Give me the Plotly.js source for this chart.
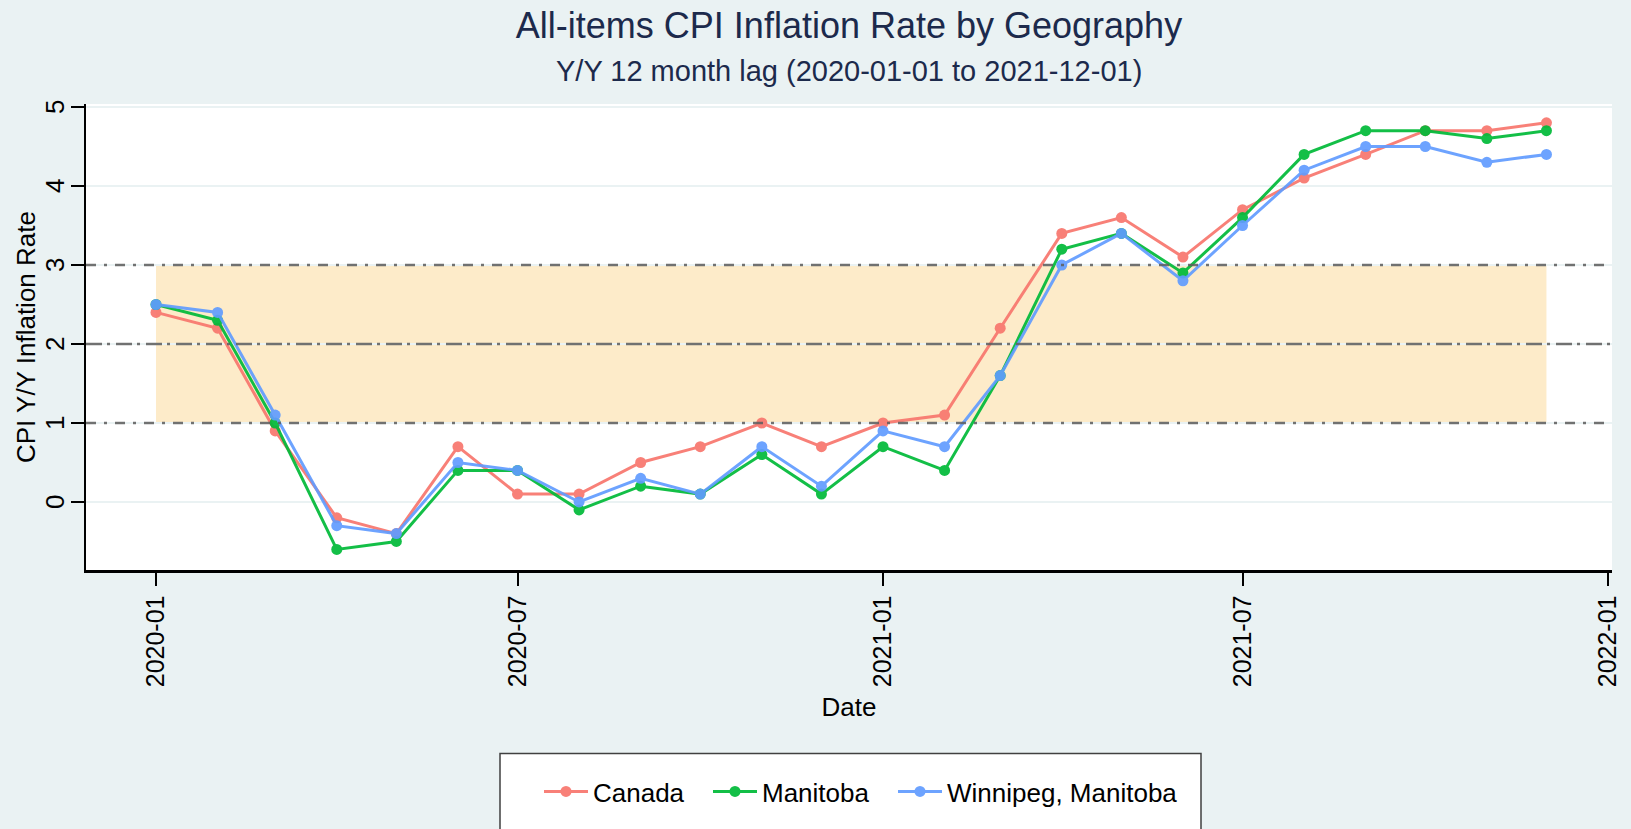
<!DOCTYPE html>
<html>
<head>
<meta charset="utf-8">
<script src="https://cdn.plot.ly/plotly-3.0.1.min.js"></script>
<style>
html,body{margin:0;padding:0;background:#eaf2f3;}
#chart{width:1631px;height:829px;}
</style>
</head>
<body>
<div id="chart"></div>
<script>
// ---- data ----
const dates = ['2020-01-01','2020-02-01','2020-03-01','2020-04-01','2020-05-01','2020-06-01',
               '2020-07-01','2020-08-01','2020-09-01','2020-10-01','2020-11-01','2020-12-01',
               '2021-01-01','2021-02-01','2021-03-01','2021-04-01','2021-05-01','2021-06-01',
               '2021-07-01','2021-08-01','2021-09-01','2021-10-01','2021-11-01','2021-12-01'];
const canada   = [2.4, 2.2, 0.9, -0.2, -0.4, 0.7, 0.1, 0.1, 0.5, 0.7, 1.0, 0.7,
                  1.0, 1.1, 2.2, 3.4, 3.6, 3.1, 3.7, 4.1, 4.4, 4.7, 4.7, 4.8];
const manitoba = [2.5, 2.3, 1.0, -0.6, -0.5, 0.4, 0.4, -0.1, 0.2, 0.1, 0.6, 0.1,
                  0.7, 0.4, 1.6, 3.2, 3.4, 2.9, 3.6, 4.4, 4.7, 4.7, 4.6, 4.7];
const winnipeg = [2.5, 2.4, 1.1, -0.3, -0.4, 0.5, 0.4, 0.0, 0.3, 0.1, 0.7, 0.2,
                  0.9, 0.7, 1.6, 3.0, 3.4, 2.8, 3.5, 4.2, 4.5, 4.5, 4.3, 4.4];
const seriesNames = ['Canada', 'Manitoba', 'Winnipeg, Manitoba'];
const xTickVals = ['2020-01-01','2020-07-01','2021-01-01','2021-07-01','2022-01-01'];
const xTickText = ['2020-01','2020-07','2021-01','2021-07','2022-01'];
const yTickVals = [0, 1, 2, 3, 4, 5];
const yTickText = ['0', '1', '2', '3', '4', '5'];
const targetBand = [1, 3];
const referenceLines = [1, 2, 3];
const bandStart = '2020-01-01';
const bandEnd = '2021-12-01';

// ---- styles ----
const FONT = 'Liberation Sans, Arial, sans-serif';
const colors = ['#F8766D', '#00BA38', '#619CFF'];
const seriesData = [canada, manitoba, winnipeg];
const legendIds = ['legend', 'legend2', 'legend3'];
const legendLeftPx = [539, 708, 893];

const traces = seriesData.map((vals, i) => ({
  type: 'scatter',
  mode: 'lines+markers',
  x: dates,
  y: vals,
  name: seriesNames[i],
  legend: legendIds[i],
  line: {color: colors[i], width: 3},
  marker: {color: colors[i], size: 11},
  opacity: 0.92
}));

const shapes = [
  {type: 'rect', xref: 'x', yref: 'y', x0: bandStart, x1: bandEnd,
   y0: targetBand[0], y1: targetBand[1], fillcolor: '#fdebc9', line: {width: 0}, layer: 'below'}
];
referenceLines.forEach(v => {
  shapes.push({type: 'line', xref: 'paper', yref: 'y', x0: 0, x1: 1, y0: v, y1: v,
    line: {color: 'rgba(95,95,95,0.88)', width: 2.5,
           dash: v === 2 ? '16px,5px,3px,6px' : '10px,8px,3px,8px'},
    layer: 'above'});
});
// legend frame
shapes.push({type: 'rect', xref: 'paper', yref: 'paper',
  x0: (500 - 86) / 1526, x1: (1201 - 86) / 1526, y0: (570 - 753.5) / 466, y1: (570 - 860) / 466,
  fillcolor: '#ffffff', line: {color: '#404040', width: 1.5}, layer: 'below'});

const annotations = [{
  text: 'Y/Y 12 month lag (2020-01-01 to 2021-12-01)',
  xref: 'paper', x: 0.5, xanchor: 'center',
  yref: 'paper', y: (570 - 71) / 466, yanchor: 'middle',
  showarrow: false, font: {family: FONT, size: 29, color: '#1c2a4c'}
}, {
  text: 'CPI Y/Y Inflation Rate',
  xref: 'paper', x: (26 - 86) / 1526, xanchor: 'center',
  yref: 'paper', y: 0.5, yanchor: 'middle', textangle: -90,
  showarrow: false, font: {family: FONT, size: 26, color: '#000000'}
}];
// rotated y tick labels
yTickVals.forEach((v, i) => {
  annotations.push({
    text: yTickText[i],
    xref: 'paper', x: (55 - 86) / 1526, xanchor: 'center',
    yref: 'y', y: v, yanchor: 'middle', textangle: -90,
    showarrow: false, font: {family: FONT, size: 26, color: '#000000'}
  });
});

const layout = {
  width: 1631, height: 829,
  paper_bgcolor: '#eaf2f3',
  plot_bgcolor: '#ffffff',
  margin: {l: 86, r: 19, t: 104, b: 259, pad: 0},
  font: {family: FONT, color: '#000000', size: 26},
  title: {
    text: 'All-items CPI Inflation Rate by Geography',
    font: {family: FONT, size: 36, color: '#1c2a4c'},
    x: 0.5, xref: 'paper', xanchor: 'center',
    y: 1 - 25 / 829, yref: 'container', yanchor: 'middle'
  },
  annotations: annotations,
  showlegend: true,
  xaxis: {
    type: 'date',
    range: ['2019-11-26 18:14', '2022-01-03 00:00'],
    tickvals: xTickVals, ticktext: xTickText,
    tickangle: -90,
    ticks: 'outside', ticklen: 13, tickwidth: 2, tickcolor: '#000000',
    showline: true, linecolor: '#000000', linewidth: 2.5, mirror: false,
    showgrid: false, zeroline: false,
    tickfont: {family: FONT, size: 25, color: '#000000'},
    title: {text: 'Date', font: {family: FONT, size: 26, color: '#000000'}, standoff: 12}
  },
  yaxis: {
    range: [-0.861, 5.038],
    tickvals: yTickVals,
    showticklabels: false,
    ticks: 'outside', ticklen: 13, tickwidth: 2, tickcolor: '#000000',
    showline: true, linecolor: '#000000', linewidth: 2.5, mirror: false,
    showgrid: true, gridcolor: '#eaf2f3', gridwidth: 2.5, zeroline: false
  },
  shapes: shapes,
  hovermode: false
};
legendIds.forEach((id, i) => {
  layout[id] = {
    orientation: 'h',
    xref: 'container', x: legendLeftPx[i] / 1631, xanchor: 'left',
    yref: 'container', y: 1 - 768 / 829, yanchor: 'top',
    bgcolor: 'rgba(0,0,0,0)', borderwidth: 0,
    font: {family: FONT, size: 26, color: '#000000'},
    itemwidth: 44
  };
});

Plotly.newPlot('chart', traces, layout, {displayModeBar: false, staticPlot: true});
</script>
</body>
</html>
